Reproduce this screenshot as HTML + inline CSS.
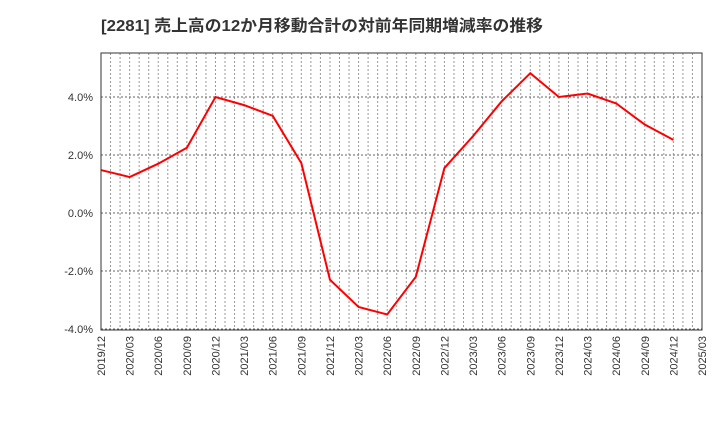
<!DOCTYPE html>
<html><head><meta charset="utf-8">
<style>
body{margin:0;background:#fff;}
svg text{font-family:"Liberation Sans","Noto Sans CJK JP",sans-serif;}
</style></head>
<body>
<svg id="chart" width="720" height="440">
<text x="101" y="31" font-size="16" font-weight="bold" fill="#333" textLength="442" lengthAdjust="spacingAndGlyphs">[2281]  売上高の12か月移動合計の対前年同期増減率の推移</text>
<g id="grid"></g>
<g id="yaxis"></g>
<g id="xaxis"></g>
<polyline id="line" fill="none" stroke="#f00" stroke-width="2"/>
<rect x="101" y="53" width="601" height="277" fill="none" stroke="#333" stroke-width="1"/>
</svg>
<script>
const categories=["2019/12","2020/03","2020/06","2020/09","2020/12","2021/03","2021/06","2021/09","2021/12","2022/03","2022/06","2022/09","2022/12","2023/03","2023/06","2023/09","2023/12","2024/03","2024/06","2024/09","2024/12"];
const values=[1.48,1.24,1.7,2.25,4.0,3.72,3.35,1.72,-2.3,-3.24,-3.5,-2.2,1.55,2.65,3.85,4.82,4.0,4.12,3.78,3.05,2.52];
const xTickLabels=["2019/12","2020/03","2020/06","2020/09","2020/12","2021/03","2021/06","2021/09","2021/12","2022/03","2022/06","2022/09","2022/12","2023/03","2023/06","2023/09","2023/12","2024/03","2024/06","2024/09","2024/12","2025/03"];
const yTicks=[-4,-2,0,2,4];
const NS="http://www.w3.org/2000/svg";
const L=101,R=702,T=53,B=330;
const nQ=xTickLabels.length-1;
function x(i){return L+(R-L)*i/nQ;}
function y(v){return 213-29*v;}
function mk(tag,attrs,parent){const e=document.createElementNS(NS,tag);for(const k in attrs)e.setAttribute(k,attrs[k]);parent.appendChild(e);return e;}
const grid=document.getElementById('grid'),ya=document.getElementById('yaxis'),xa=document.getElementById('xaxis');
for(let m=1;m<nQ*3;m++){
  const xx=L+(R-L)*m/(nQ*3);
  const g=mk('line',{x1:xx,x2:xx,y1:T,y2:B,stroke:'#999','stroke-dasharray':'2,2','stroke-width':1},grid);
  
  
}
yTicks.forEach(v=>{
  const yy=y(v);
  const g=mk('line',{x1:L,x2:R,y1:yy,y2:yy,stroke:'#666','stroke-dasharray':'2,2','stroke-width':1},grid);
  
  
  const t=mk('text',{x:L-8,y:yy+4,'text-anchor':'end','font-size':11,fill:'#333'},ya);
  t.textContent=v.toFixed(1)+'%';
  
  
});
xTickLabels.forEach((s,i)=>{
  const xx=x(i);
  const t=mk('text',{x:0,y:0,'text-anchor':'end','font-size':11,fill:'#333',transform:`translate(${xx+4},${B+6}) rotate(-90)`},xa);
  t.textContent=s;
  
  
});
document.getElementById('line').setAttribute('points',values.map((v,i)=>x(i)+','+y(v)).join(' '));
</script>
</body></html>
